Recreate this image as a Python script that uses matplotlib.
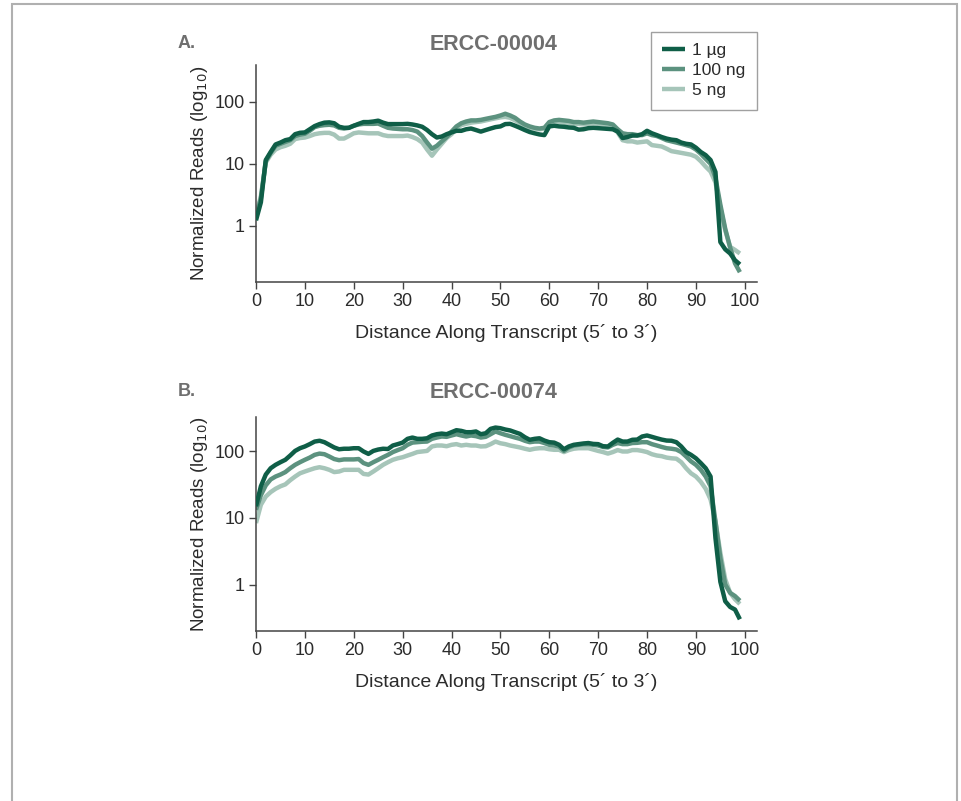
import numpy as np
import matplotlib
matplotlib.use("Agg")
import matplotlib.pyplot as plt
from matplotlib.patches import Rectangle

plt.rcParams['font.family'] = ['Liberation Sans', 'DejaVu Sans']

positions = np.arange(100)
series_labels = ['1 µg', '100 ng', '5 ng']
colors = ['#0f5e47', '#5c927f', '#a6c5b9']

a_1ug = [1.23, 2.4, 11.5, 15.5, 20.5, 22, 24, 25, 30, 31.6,
         32, 36, 40.5, 43.6, 46, 46.5, 45, 39.5, 38, 38,
         41, 44, 47, 47, 48, 49.5, 46, 43.6, 43.6, 43.6,
         43.6, 44, 43, 41.5, 39.5, 35, 30, 26.5, 27.5, 30,
         32, 34, 34, 36, 37, 35, 33, 35, 37, 39,
         40, 43.6, 44, 41, 38, 35, 32.5, 31, 29.7, 29,
         40, 41, 40, 39.5, 38.5, 38, 35.5, 36, 37.5, 38,
         37.5, 37, 36.5, 36, 33, 26, 27, 28.5, 28.5, 30,
         34, 31, 29, 27, 25.5, 24.5, 24, 22, 21, 20.5,
         18.2, 15.5, 13.8, 11.5, 7.4, 0.55, 0.42, 0.36, 0.28, 0.24]
a_100ng = [1.4, 2.8, 11, 15, 19.5, 21, 22.5, 24, 28, 29.5,
           30.5, 34, 39, 41, 42, 42.5, 41.5, 38, 37, 38,
           41, 43, 44, 44, 44, 44.5, 41, 38, 37, 36.5,
           36, 36, 35, 33, 28, 22, 17.5, 19.5, 23, 27,
           33, 40, 45, 48, 50, 50, 51, 53, 55, 57,
           60, 64, 60, 55, 48, 43, 40, 38, 37, 38,
           47, 50, 51, 50, 49, 47, 47, 46, 47, 48,
           47, 46, 45, 43, 36, 31, 30, 30, 29, 29,
           31, 29, 28, 26, 24, 23, 22, 21, 20, 19,
           17, 14.5, 12, 10, 6, 2.2, 0.9, 0.45, 0.25, 0.18]
a_5ng = [1.5, 3, 10.5, 14, 17, 18.5, 19.5, 21, 25, 26,
         26.5, 28, 30, 31, 31.5, 31.5, 29.5, 25.5, 25.5, 28,
         31, 32, 31.5, 31, 31, 31, 29, 28, 28, 28,
         28, 28.5, 27, 25, 22, 17, 13.5, 17, 21, 26,
         30, 37, 42, 44, 46, 47, 48, 50, 52, 54,
         56, 57, 55, 50, 45, 41, 38, 37, 36, 37,
         44, 46, 47, 46, 45, 44, 44, 43, 44, 45,
         44, 43, 42, 40, 32, 24, 23, 23, 22, 22.5,
         23, 20, 19.5, 19, 17.5, 16, 15.5, 15, 14.5, 14,
         13, 11, 9, 7.5, 5, 2, 0.85, 0.46, 0.41, 0.36]

b_1ug = [15, 30, 45, 56, 63, 69, 75, 87, 102, 112,
         119, 129, 141, 145, 138, 126, 115, 108, 110, 110,
         112, 112, 100, 92, 102, 107, 110, 109, 123, 129,
         136, 155, 162, 155, 155, 158, 174, 182, 186, 182,
         195, 209, 204, 195, 195, 200, 182, 188, 219, 229,
         224, 214, 207, 195, 184, 164, 150, 155, 158, 146,
         138, 136, 126, 108, 119, 126, 129, 132, 134, 130,
         129, 120, 119, 135, 151, 141, 141, 150, 151, 168,
         174, 166, 158, 151, 146, 145, 138, 119, 98, 89,
         79, 67, 56, 42, 5, 1.1, 0.56, 0.46, 0.42, 0.30]
b_100ng = [13.3, 22, 31, 38, 42, 45, 49, 56, 63, 69,
           75, 81, 89, 93, 91, 84, 77, 74, 76, 76,
           76, 77, 67, 63, 69, 75, 82, 89, 98, 105,
           112, 126, 136, 138, 140, 141, 155, 162, 168, 166,
           174, 182, 174, 168, 174, 170, 162, 166, 182, 200,
           188, 178, 170, 162, 155, 145, 138, 141, 141, 134,
           126, 123, 119, 102, 115, 123, 126, 129, 129, 126,
           123, 117, 115, 126, 134, 129, 129, 134, 135, 138,
           138, 129, 123, 117, 112, 110, 107, 98, 84, 71,
           63, 53, 42, 30, 8.9, 2.5, 1.0, 0.75, 0.67, 0.57]
b_5ng = [8.4, 15.8, 21, 24.5, 27.5, 30, 32, 37, 42, 47,
         50, 53, 56, 58, 56, 53, 49, 50, 53, 53,
         53, 53, 46, 45, 50, 56, 63, 69, 75, 79,
         82, 87, 92, 98, 100, 102, 119, 123, 123, 120,
         126, 129, 123, 126, 123, 123, 119, 120, 129, 141,
         133, 129, 123, 119, 115, 110, 106, 110, 112, 112,
         108, 106, 106, 98, 105, 110, 112, 112, 112, 107,
         102, 98, 93, 98, 105, 100, 100, 105, 105, 102,
         98, 91, 87, 85, 81, 79, 78, 69, 56, 47,
         42, 35, 27.5, 19, 8.9, 3, 1.2, 0.75, 0.6, 0.51]

panel_letters = ['A.', 'B.']
panel_titles = ['ERCC-00004', 'ERCC-00074']
x_ticks = [0, 10, 20, 30, 40, 50, 60, 70, 80, 90, 100]
y_ticks = [1, 10, 100]
y_tick_labels = ['1', '10', '100']
xlabel = 'Distance Along Transcript (5\u00b4 to 3\u00b4)'
ylabel = 'Normalized Reads (log$_{10}$)'

W, H = 962, 801
fig = plt.figure(figsize=(W / 100, H / 100), dpi=100)
fig.patch.set_facecolor('white')

# outer frame
fig.patches.append(Rectangle((12 / W, -0.01), (957 - 12) / W, 1.01 - 4 / H,
                             transform=fig.transFigure, fill=False,
                             edgecolor='#b0b0b0', linewidth=1.5))

txt = '#2b2b2b'
gray = '#6f6f6f'

panels = [
    dict(data=[a_1ug, a_100ng, a_5ng], box=(256, 65, 757, 282), ylim=(0.125, 390),
         title_y=45, letter_y=43),
    dict(data=[b_1ug, b_100ng, b_5ng], box=(256, 417, 757, 631), ylim=(0.20, 330),
         title_y=393, letter_y=391),
]

axes = []
for i, p in enumerate(panels):
    l, t, r, b = p['box']
    ax = fig.add_axes([l / W, 1 - b / H, (r - l) / W, (b - t) / H])
    lines = []
    for s, c, lab in zip(p['data'], colors, series_labels):
        ln, = ax.plot(positions, s, color=c, lw=3.2, label=lab,
                      solid_joinstyle='round', solid_capstyle='butt')
        lines.append(ln)
    for k, ln in enumerate(lines):
        ln.set_zorder(3 - k)
    ax.set_yscale('log')
    ax.set_ylim(*p['ylim'])
    ax.set_xlim(0, 102.5)
    ax.set_xticks(x_ticks)
    ax.set_xticklabels([str(v) for v in x_ticks])
    ax.set_yticks(y_ticks)
    ax.set_yticklabels(y_tick_labels)
    ax.yaxis.set_minor_locator(matplotlib.ticker.NullLocator())
    for side in ['top', 'right']:
        ax.spines[side].set_visible(False)
    for side in ['left', 'bottom']:
        ax.spines[side].set_color('#444444')
        ax.spines[side].set_linewidth(1.1)
    ax.tick_params(axis='both', direction='out', length=5, width=1.0,
                   color='#444444', labelsize=13, labelcolor=txt, pad=3)
    ax.set_xlabel(xlabel, fontsize=14, color=txt, labelpad=10)
    ax.set_ylabel(ylabel, fontsize=13.5, color=txt, labelpad=3)
    fig.text(494 / W, 1 - p['title_y'] / H, panel_titles[i], ha='center', va='center',
             fontsize=15.5, fontweight='bold', color=gray)
    fig.text(178 / W, 1 - p['letter_y'] / H, panel_letters[i], ha='left', va='center',
             fontsize=13, fontweight='bold', color=gray)
    axes.append(ax)

leg = axes[0].legend(loc='upper right', bbox_to_anchor=(757 / W, 1 - 32 / H),
                     bbox_transform=fig.transFigure, borderaxespad=0,
                     fontsize=12.5, frameon=True, fancybox=False,
                     handlelength=1.3, handletextpad=0.45, labelspacing=0.28,
                     borderpad=0.65)
leg.get_frame().set_edgecolor('#888888')
leg.get_frame().set_linewidth(1.0)
for t in leg.get_texts():
    t.set_color(txt)

fig.savefig('out.png', dpi=100, facecolor='white')
